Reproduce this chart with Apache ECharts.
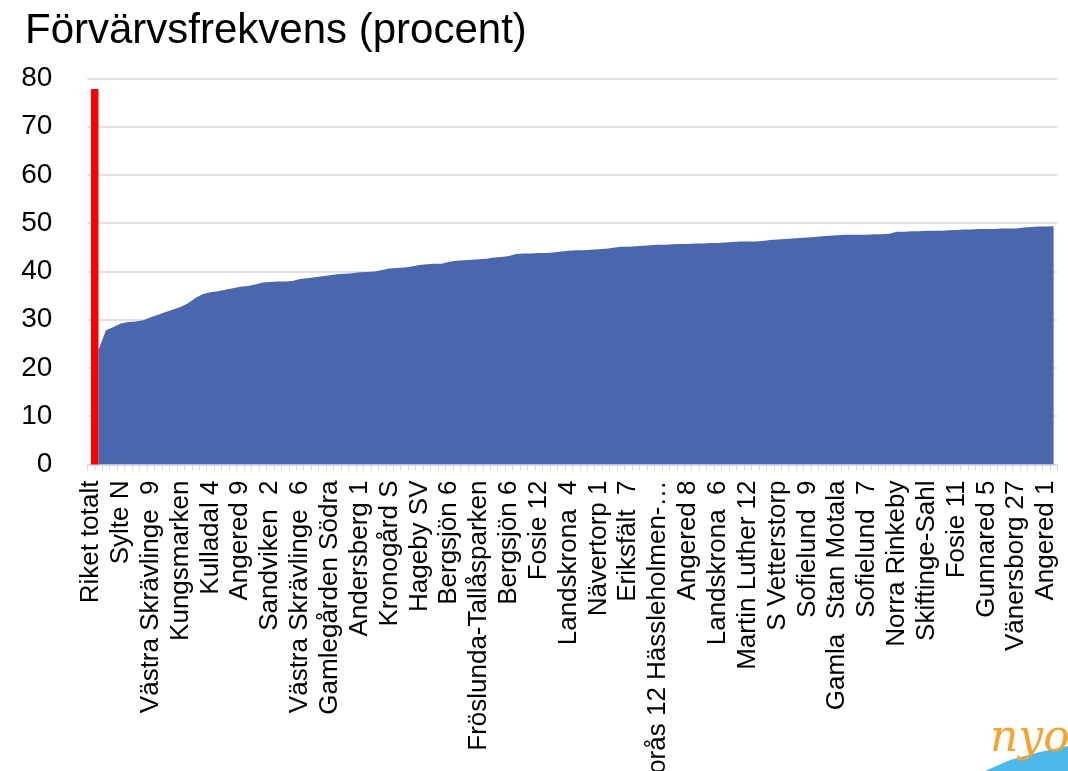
<!DOCTYPE html>
<html>
<head>
<meta charset="utf-8">
<script src="https://cdn.jsdelivr.net/npm/echarts@6/dist/echarts.min.js"></script>
<style>
html,body{margin:0;padding:0;background:#fff;}
#chart{width:1068px;height:771px;}
</style>
</head>
<body>
<div id="chart"></div>
<script>
// Tick labels shown on the x axis (every 4th category)
const tickLabels = ["Riket totalt","Sylte N","Västra Skrävlinge  9","Kungsmarken","Kulladal 4","Angered 9","Sandviken  2","Västra Skrävlinge  6","Gamlegården Södra","Andersberg 1","Kronogård S","Hageby SV","Bergsjön 6","Fröslunda-Tallåsparken","Bergsjön 6","Fosie 12","Landskrona  4","Nävertorp 1","Eriksfält  7","Borås 12 Hässleholmen-…","Angered 8","Landskrona  6","Martin Luther 12","S Vetterstorp","Sofielund  9","Gamla  Stan Motala","Sofielund  7","Norra Rinkeby","Skiftinge-Sahl","Fosie 11","Gunnared 5","Vänersborg 27","Angered 1"];
const labelStep = 4;
const categoryCount = 130;

// National total (red column)
const riketTotalt = 77.8;

// Area values, categories 1..129
const areaValues = [
23.7,27.8,28.5,29.2,29.5,29.6,29.9,30.5,31.0,31.6,
32.1,32.6,33.4,34.5,35.3,35.7,35.9,36.2,36.5,36.8,
37.0,37.3,37.7,37.8,37.9,37.9,38.0,38.4,38.6,38.8,
39.0,39.2,39.4,39.5,39.6,39.8,39.9,40.0,40.3,40.6,
40.7,40.8,41.0,41.3,41.5,41.6,41.6,42.0,42.2,42.3,
42.4,42.5,42.6,42.9,43.0,43.2,43.6,43.7,43.7,43.8,
43.8,43.9,44.1,44.3,44.4,44.4,44.5,44.6,44.7,44.9,
45.1,45.1,45.2,45.3,45.4,45.5,45.5,45.6,45.7,45.7,
45.8,45.8,45.9,45.9,46.0,46.1,46.2,46.2,46.2,46.3,
46.5,46.6,46.7,46.8,46.9,47.0,47.1,47.3,47.4,47.5,
47.6,47.6,47.6,47.6,47.7,47.7,47.8,48.2,48.2,48.3,
48.3,48.4,48.4,48.4,48.5,48.6,48.7,48.7,48.8,48.8,
48.8,48.9,48.9,48.9,49.1,49.2,49.3,49.3,49.35
];

const yTicks = {min: 0, max: 80, interval: 10};

// Build category list: named every 4th, others unnamed
const categories = [];
for (let i = 0; i < categoryCount; i++) {
  categories.push(i % labelStep === 0 ? (tickLabels[i / labelStep] || '') : '');
}
const areaData = [null].concat(areaValues);
const redData = [riketTotalt].concat(new Array(categoryCount - 1).fill(null));
const spacerData = new Array(categoryCount).fill(null);

const FONT = '"Liberation Sans", Arial, sans-serif';
const chart = echarts.init(document.getElementById('chart'), null, {renderer: 'canvas'});
chart.setOption({
  animation: false,
  backgroundColor: '#ffffff',
  title: {
    text: 'Förvärvsfrekvens (procent)',
    left: 20,
    top: 5,
    textStyle: {fontFamily: FONT, fontSize: 42, fontWeight: 'normal', color: '#000'}
  },
  grid: {left: 87.3, right: 10.7, top: 78.3, bottom: 306.5, containLabel: false, outerBoundsMode: 'none'},
  xAxis: {
    type: 'category',
    data: categories,
    boundaryGap: true,
    axisLine: {show: true, lineStyle: {color: '#d9d9d9', width: 1.5}},
    axisTick: {show: true, interval: 0, length: 6, lineStyle: {color: '#d9d9d9', width: 1}},
    axisLabel: {
      interval: labelStep - 1,
      rotate: 90,
      margin: 16,
      fontFamily: FONT,
      fontSize: 26,
      color: '#000',
      hideOverlap: false
    },
    splitLine: {show: false}
  },
  yAxis: {
    type: 'value',
    min: yTicks.min,
    max: yTicks.max,
    interval: yTicks.interval,
    axisLine: {show: false},
    axisTick: {show: false},
    axisLabel: {margin: 35, fontFamily: FONT, fontSize: 28, color: '#000'},
    splitLine: {lineStyle: {color: '#d9d9d9', width: 1.5}}
  },
  series: [
    {
      name: 'area',
      type: 'line',
      data: areaData,
      symbol: 'none',
      lineStyle: {width: 0},
      areaStyle: {color: '#4A67AD', opacity: 1},
      itemStyle: {color: '#4A67AD'},
      z: 2
    },
    {
      name: 'spacer',
      type: 'bar',
      data: spacerData,
      barWidth: '100%',
      barGap: '0%',
      itemStyle: {color: 'rgba(0,0,0,0)'},
      z: 3
    },
    {
      name: 'Riket totalt',
      type: 'bar',
      data: redData,
      barWidth: '100%',
      barGap: '0%',
      itemStyle: {color: '#FF0000'},
      z: 4
    }
  ],
  graphic: [
    {
      type: 'polygon',
      shape: {points: [[985, 771], [1010, 760], [1040, 752], [1068, 746], [1068, 771]]},
      style: {fill: '#4DB8EA'},
      z: 10
    },
    {
      type: 'text',
      left: 990,
      top: 718,
      style: {text: 'nyo', fill: '#F5A332', font: 'italic 44px "DejaVu Serif", serif'},
      z: 11
    }
  ]
});
</script>
</body>
</html>
